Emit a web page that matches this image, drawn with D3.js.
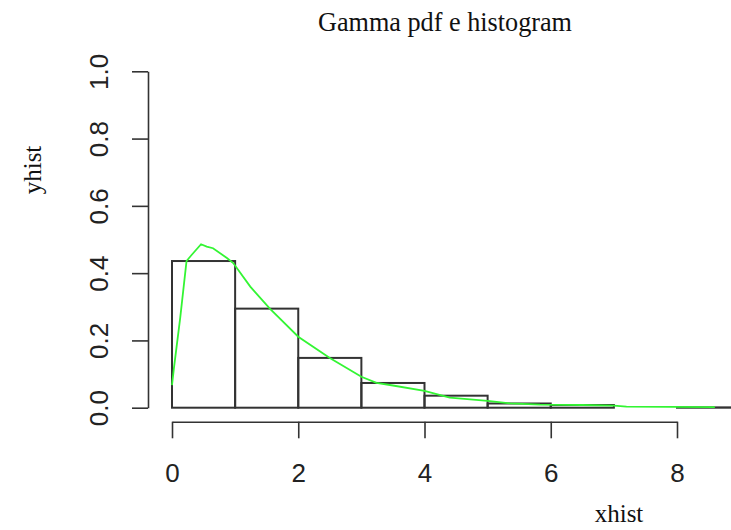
<!DOCTYPE html>
<html>
<head>
<meta charset="utf-8">
<script src="https://cdn.jsdelivr.net/npm/d3@7"></script>
<style>
  body { margin: 0; background: #fff; }
  svg { display: block; }
</style>
</head>
<body>
<div class="d3-container"></div>
<script>
// histogram bins (density)
const binStart = [0, 1, 2, 3, 4, 5, 6, 7, 8];
const binEnd = [1, 2, 3, 4, 5, 6, 7, 8, 9];
const binDensity = [0.436, 0.2945, 0.148, 0.0735, 0.0357, 0.0125, 0.008, 0, 0.001];

// green pdf curve points
const curveX = [0, 0.03, 0.13, 0.23, 0.31, 0.46, 0.55, 0.65, 0.87, 0.97, 1.24, 1.55, 2.0, 2.5, 3.0, 3.24, 3.5, 4.0, 4.4, 5.0, 5.36, 5.83, 6.5, 7.0, 7.2, 8.6];
const curveY = [0.067, 0.117, 0.267, 0.436, 0.454, 0.486, 0.479, 0.474, 0.445, 0.43, 0.36, 0.2945, 0.211, 0.148, 0.092, 0.074, 0.066, 0.05, 0.03, 0.02, 0.013, 0.009, 0.008, 0.006, 0.003, 0.002];

const xTicks = [0, 2, 4, 6, 8];
const yTicks = [0, 0.2, 0.4, 0.6, 0.8, 1.0];

const width = 731;
const height = 530;

const svg = d3.select(".d3-container")
  .append("svg")
  .attr("width", width)
  .attr("height", height);

const x = d3.scaleLinear()
  .domain([0, 8])
  .range([172, 677]);

const y = d3.scaleLinear()
  .domain([0, 1])
  .range([407.7, 71.3]);

// histogram
svg.append("g")
  .attr("fill", "none")
  .attr("stroke", "#333")
  .attr("stroke-width", 2)
  .selectAll("rect")
  .data(binStart.map((s, i) => ({s: s, e: binEnd[i], d: binDensity[i]})))
  .join("rect")
  .attr("x", d => x(d.s))
  .attr("y", d => y(d.d))
  .attr("width", d => x(d.e) - x(d.s))
  .attr("height", d => y(0) - y(d.d));

// pdf curve
const line = d3.line()
  .x(d => x(d[0]))
  .y(d => y(d[1]));

svg.append("path")
  .datum(curveX.map((v, i) => [v, curveY[i]]))
  .attr("fill", "none")
  .attr("stroke", "#33f533")
  .attr("stroke-width", 1.8)
  .attr("d", line);

// axes
const yAxis = g => {
  g.attr("transform", "translate(148,0)")
  g.call(d3.axisLeft(y).tickValues(yTicks).tickSize(16).tickSizeOuter(0).tickFormat(d3.format(".1f")))
  g.selectAll("path, line").attr("stroke", "#333").attr("stroke-width", 1.6)
  g.selectAll("text")
    .attr("transform", "rotate(-90)")
    .attr("x", 0)
    .attr("y", -49)
    .attr("dy", "0.36em")
    .attr("text-anchor", "middle")
    .attr("fill", "#222")
    .style("font-family", "'Liberation Sans', Arial, sans-serif")
    .style("font-size", "26px");
};

const xAxis = g => {
  g.attr("transform", "translate(0,421.7)")
  g.call(d3.axisBottom(x).tickValues(xTicks).tickSize(16.6).tickSizeOuter(0))
  g.selectAll("path, line").attr("stroke", "#333").attr("stroke-width", 1.6)
  g.selectAll("text")
    .attr("y", 42)
    .attr("dy", "0.71em")
    .attr("fill", "#222")
    .style("font-family", "'Liberation Sans', Arial, sans-serif")
    .style("font-size", "26px");
};

svg.append("g").call(yAxis);
svg.append("g").call(xAxis);

// titles
svg.append("text")
  .attr("x", 445)
  .attr("y", 31)
  .attr("text-anchor", "middle")
  .attr("textLength", 254)
  .attr("lengthAdjust", "spacingAndGlyphs")
  .style("font-family", "'Liberation Serif', 'Times New Roman', serif")
  .style("font-size", "27px")
  .attr("fill", "#111")
  .text("Gamma pdf e histogram");

svg.append("text")
  .attr("x", 619)
  .attr("y", 521.7)
  .attr("text-anchor", "middle")
  .style("font-family", "'Liberation Serif', 'Times New Roman', serif")
  .style("font-size", "25px")
  .attr("fill", "#111")
  .text("xhist");

svg.append("text")
  .attr("transform", "translate(41,170) rotate(-90)")
  .attr("text-anchor", "middle")
  .style("font-family", "'Liberation Serif', 'Times New Roman', serif")
  .style("font-size", "25px")
  .attr("fill", "#111")
  .text("yhist");
</script>
</body>
</html>
